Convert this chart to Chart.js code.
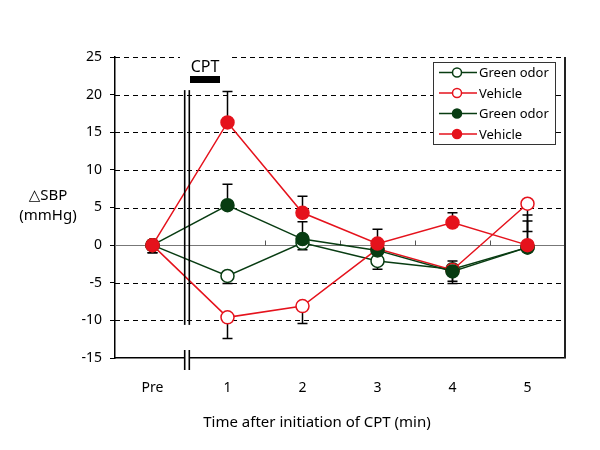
<!DOCTYPE html>
<html><head><meta charset="utf-8">
<script src="https://cdn.jsdelivr.net/npm/chart.js@4.4.0/dist/chart.umd.min.js"></script>
<style>html,body{margin:0;padding:0;background:#fff}</style>
</head><body>
<canvas id="c" width="600" height="450" style="width:600px;height:450px;display:block"></canvas>
<script>
// ---- data ----
const categories = ['Pre', '1', '2', '3', '4', '5'];
const yTickValues = [-15, -10, -5, 0, 5, 10, 15, 20, 25];
const seriesLabels = ['Green odor', 'Vehicle', 'Green odor', 'Vehicle'];
const xTitle = 'Time after initiation of CPT (min)';
const greenOdorOpen   = [0, -4.1,  0.3, -2.1, -3.2, -0.3];
const vehicleOpen     = [0, -9.6, -8.1, -0.5, -3.3,  5.5];
const greenOdorFilled = [0,  5.3,  0.8, -0.7, -3.5, -0.3];
const vehicleFilled   = [0, 16.3,  4.3,  0.2,  3.0,  0.0];
const greenOdorOpenErr   = [1.0, 1.0, 0.9, 1.1, 1.9, 0.5];
const vehicleOpenErr     = [1.0, 2.8, 2.3, 0.5, 1.5, 3.7];
const greenOdorFilledErr = [0.5, 2.8, 2.3, 0.8, 1.4, 4.3];
const vehicleFilledErr   = [0.5, 4.1, 2.2, 1.9, 1.3, 3.2];

const RED = '#e5121c';
const GREEN = '#083c12';
const FONT = '"Noto Sans", "DejaVu Sans", sans-serif';

function ds(label, data, err, dir, color, filled, order) {
  return {
    label, data, err, errDir: dir, order,
    borderColor: color, backgroundColor: color,
    pointBackgroundColor: filled ? color : '#ffffff',
    pointBorderColor: color, pointBorderWidth: 1.5,
    pointRadius: 6.5, pointHoverRadius: 6.5,
    borderWidth: 1.5, tension: 0, fill: false,
    filledMarker: filled
  };
}

const datasets = [
  ds(seriesLabels[0], greenOdorOpen, greenOdorOpenErr, -1, GREEN, false, 3),
  ds(seriesLabels[1], vehicleOpen, vehicleOpenErr, -1, RED, false, 2),
  ds(seriesLabels[2], greenOdorFilled, greenOdorFilledErr, 1, GREEN, true, 1),
  ds(seriesLabels[3], vehicleFilled, vehicleFilledErr, 1, RED, true, 0)
];

const BREAK = 0.46;

const deco = {
  id: 'deco',
  beforeDatasetsDraw(chart) {
    const {ctx, chartArea: a, scales: {x, y}} = chart;
    ctx.save();
    const gapL = x.getPixelForValue(BREAK) - 7;
    const gapR = x.getPixelForValue(BREAK + 0.6);
    yTickValues.forEach(v => {
      if (v === -15) return;
      const py = Math.round(y.getPixelForValue(v)) + 0.5;
      ctx.beginPath();
      if (v === 0) { ctx.setLineDash([]); ctx.strokeStyle = '#777'; ctx.lineWidth = 1; }
      else { ctx.setLineDash([5, 4]); ctx.strokeStyle = '#000'; ctx.lineWidth = 1; }
      if (v === 25) {
        ctx.moveTo(a.left, py); ctx.lineTo(gapL, py);
        ctx.moveTo(gapR, py); ctx.lineTo(a.right, py);
      } else {
        ctx.moveTo(a.left, py); ctx.lineTo(a.right, py);
      }
      ctx.stroke();
    });
    ctx.setLineDash([]);
    // small ticks on the zero line
    const y0 = Math.round(y.getPixelForValue(0)) + 0.5;
    ctx.strokeStyle = '#555'; ctx.lineWidth = 1;
    for (let i = 1; i < categories.length - 1; i++) {
      const px = Math.round(x.getPixelForValue(i + 0.5)) + 0.5;
      ctx.beginPath(); ctx.moveTo(px, y0); ctx.lineTo(px, y0 - 5); ctx.stroke();
    }
    // error bars
    ctx.strokeStyle = '#000'; ctx.lineWidth = 1.5;
    chart.data.datasets.forEach(d => {
      d.data.forEach((v, i) => {
        const px = x.getPixelForValue(i);
        const p0 = y.getPixelForValue(v);
        const p1 = y.getPixelForValue(v + d.errDir * d.err[i]);
        ctx.beginPath();
        ctx.moveTo(px, p0); ctx.lineTo(px, p1);
        ctx.moveTo(px - 5, p1); ctx.lineTo(px + 5, p1);
        ctx.stroke();
      });
    });
    ctx.restore();
  },
  afterDatasetsDraw(chart) {
    const {ctx, chartArea: a, scales: {x, y}} = chart;
    ctx.save();
    const bx = x.getPixelForValue(BREAK);
    // axis break (double line)
    ctx.strokeStyle = '#000'; ctx.lineWidth = 1.6;
    const yt = y.getPixelForValue(20.6), yb = y.getPixelForValue(-10.6);
    [bx - 2.3, bx + 2.3].forEach(px => {
      ctx.beginPath(); ctx.moveTo(px, yt); ctx.lineTo(px, yb); ctx.stroke();
    });
    // x-axis break
    ctx.fillStyle = '#fff';
    ctx.fillRect(bx - 2, a.bottom - 3, 4, 6);
    [bx - 2.3, bx + 2.3].forEach(px => {
      ctx.beginPath(); ctx.moveTo(px, a.bottom - 8); ctx.lineTo(px, a.bottom + 12); ctx.stroke();
    });
    // right border
    ctx.strokeStyle = '#222'; ctx.lineWidth = 2;
    ctx.beginPath(); ctx.moveTo(a.right, a.top); ctx.lineTo(a.right, a.bottom); ctx.stroke();
    // CPT marker
    const cx0 = bx + 3, cx1 = bx + 33;
    ctx.fillStyle = '#000';
    ctx.fillRect(cx0, a.top + 19, cx1 - cx0, 7);
    ctx.font = '16px ' + FONT;
    ctx.textAlign = 'center'; ctx.textBaseline = 'alphabetic';
    ctx.fillText('CPT', (cx0 + cx1) / 2, a.top + 15);
    // y-axis label
    ctx.font = '15px ' + FONT;
    ctx.textBaseline = 'middle';
    ctx.fillText('△SBP', 48, 196);
    ctx.fillText('(mmHg)', 48, 216);
    // x-axis title
    ctx.fillText(xTitle, 317, 423);
    // legend
    const lx = a.right - 132, ly = a.top + 5, lw = 122, lh = 82;
    ctx.fillStyle = '#fff';
    ctx.fillRect(lx, ly, lw, lh);
    ctx.strokeStyle = '#333'; ctx.lineWidth = 1;
    ctx.strokeRect(Math.round(lx) + 0.5, Math.round(ly) + 0.5, lw, lh);
    ctx.font = '13px ' + FONT;
    ctx.textAlign = 'left';
    chart.data.datasets.forEach((d, i) => {
      const ry = ly + 10.5 + i * 20.5;
      ctx.strokeStyle = d.borderColor; ctx.lineWidth = 1.5;
      ctx.beginPath(); ctx.moveTo(lx + 6, ry); ctx.lineTo(lx + 44, ry); ctx.stroke();
      ctx.beginPath(); ctx.arc(lx + 24, ry, 4.5, 0, Math.PI * 2);
      ctx.fillStyle = d.filledMarker ? d.borderColor : '#fff';
      ctx.fill(); ctx.stroke();
      ctx.fillStyle = '#000';
      ctx.fillText(d.label, lx + 46, ry + 1);
    });
    ctx.restore();
  }
};

new Chart(document.getElementById('c'), {
  type: 'line',
  data: { labels: categories, datasets },
  options: {
    responsive: false, animation: false,
    layout: { padding: { top: 57, right: 35, bottom: 0, left: 0 } },
    plugins: { legend: { display: false }, tooltip: { enabled: false } },
    scales: {
      x: {
        type: 'category', offset: true,
        grid: { display: false, drawTicks: false },
        border: { display: true, color: '#000', width: 1.5 },
        ticks: { padding: 22, color: '#000', font: { family: FONT, size: 14 } },
        title: { display: false },
        afterFit(s) { s.height = 92; }
      },
      y: {
        min: -15, max: 25,
        afterBuildTicks(s) { s.ticks = yTickValues.map(v => ({ value: v })); },
        grid: { display: true, drawOnChartArea: false, drawTicks: true, tickLength: 5, color: '#000' },
        border: { display: true, color: '#000', width: 1.5 },
        ticks: { padding: 8, color: '#000', font: { family: FONT, size: 14 } },
        afterFit(s) { s.width = 115; }
      }
    }
  },
  plugins: [deco]
});
</script>
</body></html>
